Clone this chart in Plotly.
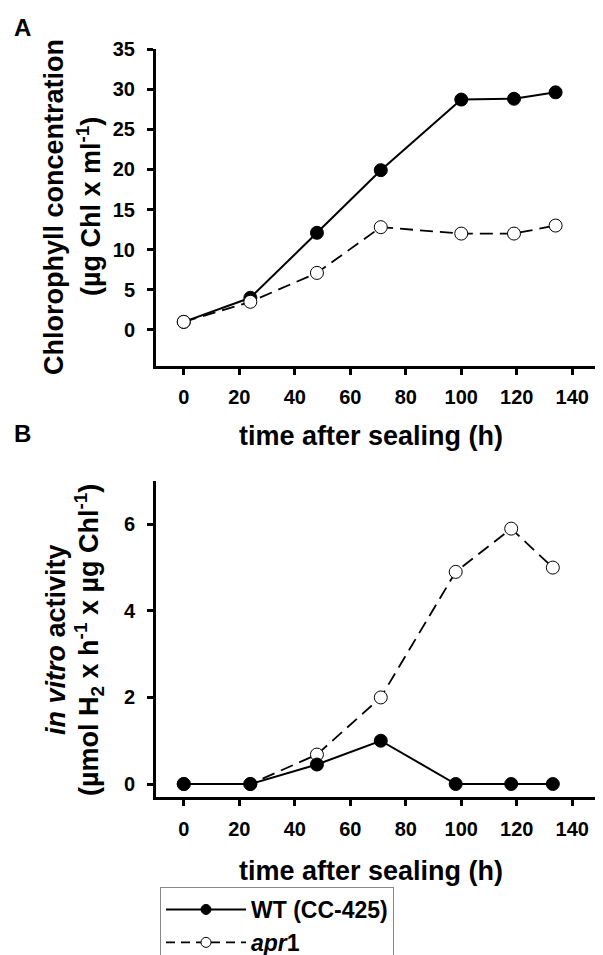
import plotly.graph_objects as go

# Panel A: chlorophyll concentration
time_a_wt = [0, 24, 48, 71, 100, 119, 134]
chl_wt = [1.0, 4.0, 12.1, 19.9, 28.7, 28.8, 29.6]
time_a_apr = [0, 24, 48, 71, 100, 119, 134]
chl_apr = [1.0, 3.5, 7.1, 12.8, 12.0, 12.0, 13.0]

# Panel B: in vitro activity
time_b = [0, 24, 48, 71, 98, 118, 133]
act_wt = [0.0, 0.0, 0.45, 1.0, 0.0, 0.0, 0.0]
act_apr = [0.0, 0.0, 0.68, 2.0, 4.9, 5.9, 5.0]

xticks = [0, 20, 40, 60, 80, 100, 120, 140]
yticks_a = [0, 5, 10, 15, 20, 25, 30, 35]
yticks_b = [0, 2, 4, 6]

# page body adds an 8px margin, so the figure is 8px smaller and shifted
OFF = 8
W, H = 603 - OFF, 955 - OFF
FONT = "Liberation Sans, Arial, sans-serif"

def px(x):
    return (x - OFF) / W

def py(y):
    return 1 - (y - OFF) / H

fig = go.Figure()

line_wt = dict(color="black", width=2)
line_apr = dict(color="black", width=1.8, dash="13px,7px")
mk_wt = dict(symbol="circle", size=13, color="black", line=dict(color="black", width=1))
mk_apr = dict(symbol="circle", size=13, color="white", line=dict(color="black", width=1))

fig.add_trace(go.Scatter(x=time_a_wt, y=chl_wt, mode="lines+markers", line=line_wt, marker=mk_wt,
                         xaxis="x", yaxis="y", showlegend=False))
fig.add_trace(go.Scatter(x=time_a_apr, y=chl_apr, mode="lines+markers", line=line_apr, marker=mk_apr,
                         xaxis="x", yaxis="y", showlegend=False))
fig.add_trace(go.Scatter(x=time_b, y=act_apr, mode="lines+markers", line=line_apr, marker=mk_apr,
                         xaxis="x2", yaxis="y2", showlegend=False))
fig.add_trace(go.Scatter(x=time_b, y=act_wt, mode="lines+markers", line=line_wt, marker=mk_wt,
                         xaxis="x2", yaxis="y2", showlegend=False))
# legend entries (smaller symbols, as in the reference legend)
fig.add_trace(go.Scatter(x=[None], y=[None], mode="lines+markers", line=line_wt,
                         marker=dict(mk_wt, size=10), name="<b>WT (CC-425)</b>", showlegend=True))
fig.add_trace(go.Scatter(x=[None], y=[None], mode="lines+markers", line=dict(line_apr, dash="9px,6px"),
                         marker=dict(mk_apr, size=10), name="<b><i>apr</i>1</b>", showlegend=True))

tickfont = dict(family=FONT, size=20, color="black", weight="bold")
common = dict(showgrid=False, zeroline=False, showline=True, linecolor="black", linewidth=3,
              ticks="outside", ticklen=6, tickwidth=2.5, tickcolor="black", tickfont=tickfont)
mirror = dict(showticklabels=False, showgrid=False, zeroline=False, showline=True, linecolor="black",
              linewidth=3, ticks="inside", ticklen=6, tickwidth=2.5, tickcolor="black")

dom_x = [px(156), px(600)]
dom_ya = [py(366), py(49)]
dom_yb = [py(797), py(481)]
xr = [-10, 150]
yra = [-4.5, 35]
yrb = [-0.3, 7.0]

layout = dict(
    width=W, height=H, plot_bgcolor="white", paper_bgcolor="white",
    margin=dict(l=0, r=0, t=0, b=0, autoexpand=False),
    xaxis=dict(domain=dom_x, range=xr, anchor="y", tickvals=xticks, ticklabelstandoff=5, **common),
    yaxis=dict(domain=dom_ya, range=yra, anchor="x", tickvals=yticks_a, ticklabelstandoff=8, **common),
    xaxis2=dict(domain=dom_x, range=xr, anchor="y2", tickvals=xticks, ticklabelstandoff=6, **common),
    yaxis2=dict(domain=dom_yb, range=yrb, anchor="x2", tickvals=yticks_b, ticklabelstandoff=8, **common),
    xaxis3=dict(overlaying="x", side="top", anchor="y", range=xr, tickvals=xticks, **mirror),
    yaxis3=dict(overlaying="y", side="right", anchor="x", range=yra, tickvals=yticks_a, **mirror),
    xaxis4=dict(overlaying="x2", side="top", anchor="y2", range=xr, tickvals=xticks, **mirror),
    yaxis4=dict(overlaying="y2", side="right", anchor="x2", range=yrb, tickvals=yticks_b, **mirror),
    legend=dict(x=px(160), y=py(887), xanchor="left", yanchor="top", bgcolor="white",
                bordercolor="#888", borderwidth=1, itemwidth=80,
                font=dict(family=FONT, size=23, color="black"), tracegroupgap=0),
    showlegend=True,
)
fig.update_layout(**layout)

ann_font = dict(family=FONT, size=27, color="black")
anns = [
    dict(text="<b>A</b>", x=px(22), y=py(27), font=dict(family=FONT, size=24, color="black")),
    dict(text="<b>B</b>", x=px(22), y=py(433), font=dict(family=FONT, size=24, color="black")),
    dict(text="<b>time after sealing (h)</b>", x=px(371), y=py(436), font=ann_font),
    dict(text="<b>time after sealing (h)</b>", x=px(371), y=py(871), font=ann_font),
    dict(text="<b>Chlorophyll concentration</b>", x=px(54), y=py(207), textangle=-90, font=ann_font),
    dict(text="<b>(µg Chl x ml<sup>-1</sup>)</b>", x=px(89), y=py(207), textangle=-90, font=ann_font),
    dict(text="<b><i>in vitro</i> activity</b>", x=px(56), y=py(640), textangle=-90, font=ann_font),
    dict(text="<b>(µmol H<sub>2</sub> x h<sup>-1</sup> x µg Chl<sup>-1</sup>)</b>", x=px(89), y=py(640),
         textangle=-90, font=ann_font),
]
for a in anns:
    fig.add_annotation(xref="paper", yref="paper", showarrow=False, xanchor="center", yanchor="middle", **a)

fig.write_html("out.html")
